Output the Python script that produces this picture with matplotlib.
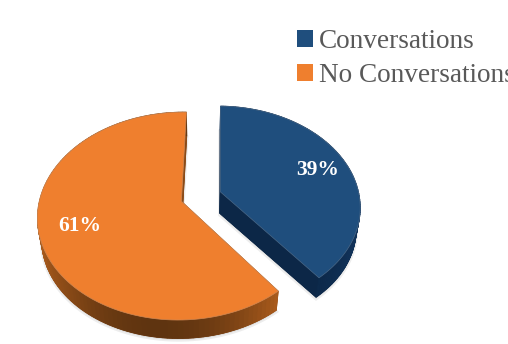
import numpy as np
import matplotlib
matplotlib.use("Agg")
from matplotlib import pyplot as plt
from matplotlib.patches import Patch
from matplotlib.transforms import IdentityTransform

categories = ["Conversations", "No Conversations"]
shares = [39, 61]

top_colors = ["#1f4e7d", "#ef7f2e"]
wall_colors = ["#0c2747", "#8a4a17"]
arc_dark = ["#0c2747", "#5f3410"]
arc_light = ["#12345c", "#a85a1c"]
label_pos = [(318, 170), (80, 226)]

# tilted pie: plane coordinates go through a small perspective divide
ORIGIN = (201, 196.5)
SCALE_X, SCALE_Y = 139, 99
TILT = 0.14
EXPLODE = 0.148
DEPTH = 21.5
RADIUS = [1.0, 1.015]
START = np.radians(1.2)


def project(u, v, low=False):
    d = 1 + TILT * v
    s = 0.975 if low else 1.0
    x = ORIGIN[0] + s * SCALE_X * u / d
    y = ORIGIN[1] - s * SCALE_Y * v / d
    if low:
        y = y + DEPTH
    return x, y


def mix(c1, c2, f):
    a = np.array(matplotlib.colors.to_rgb(c1))
    b = np.array(matplotlib.colors.to_rgb(c2))
    return tuple(a + (b - a) * f)


fig = plt.figure(figsize=(5.08, 3.44), dpi=100)
ax = fig.add_axes([0, 0, 1, 1])
ax.set_xlim(0, 508)
ax.set_ylim(344, 0)
ax.axis("off")

fractions = np.array(shares) / sum(shares)
edges = START + np.concatenate([[0], np.cumsum(fractions)]) * 2 * np.pi

for i in range(len(shares)):
    t = np.linspace(edges[i], edges[i + 1], 120)
    mid = (edges[i] + edges[i + 1]) / 2
    cu, cv = EXPLODE * np.sin(mid), EXPLODE * np.cos(mid)
    u = cu + RADIUS[i] * np.sin(t)
    v = cv + RADIUS[i] * np.cos(t)

    # soft grey rim under the slice
    lx, ly = project(np.r_[cu, u], np.r_[cv, v], low=True)
    ax.fill(lx, ly + 1.5, color="#000000", alpha=0.07, lw=2.5, zorder=1)

    # flat walls running from the apex out to the rim
    ax.fill(lx, ly, color=wall_colors[i], lw=0.5, zorder=2)
    for uu, vv in [(u[0], v[0]), (u[-1], v[-1])]:
        x1, y1 = project(np.array([cu, uu]), np.array([cv, vv]))
        x2, y2 = project(np.array([cu, uu]), np.array([cv, vv]), low=True)
        ax.fill([x1[0], x1[1], x2[1], x2[0]], [y1[0], y1[1], y2[1], y2[0]],
                color=wall_colors[i], lw=0.5, zorder=2)

    # curved outer wall, shaded bit by bit
    ux, uy = project(u, v)
    dx, dy = project(u, v, low=True)
    span = ux.max() - ux.min()
    for j in range(len(t) - 1):
        f = abs((ux[j] - ux.min()) / span - 0.5) * 2
        c = mix(arc_dark[i], arc_light[i], f ** 2)
        ax.fill([ux[j], ux[j + 1], dx[j + 1], dx[j]],
                [uy[j], uy[j + 1], dy[j + 1], dy[j]],
                color=c, lw=0.6, zorder=3)

    # top face
    px, py = project(np.r_[cu, u], np.r_[cv, v])
    ax.fill(px, py, facecolor=top_colors[i], edgecolor=mix(top_colors[i], "#999999", 0.35),
            lw=0.5, zorder=4)
    ax.text(label_pos[i][0], label_pos[i][1], f"{shares[i]}%", color="white",
            family="Liberation Serif", weight="bold", fontsize=15.5,
            ha="center", va="center", zorder=5)

handles = [Patch(facecolor=c, edgecolor="none") for c in top_colors]
# anchor is in display pixels, counted from the bottom left
ax.legend(handles, categories, loc="upper left", bbox_to_anchor=(297, 344 - 29),
          bbox_transform=IdentityTransform(),
          frameon=False, prop={"family": "Liberation Serif", "size": 19.6},
          labelcolor="#595959", handlelength=0.59, handleheight=0.59, handletextpad=0.2,
          labelspacing=0.32, borderpad=0, borderaxespad=0)

fig.savefig("out.png", dpi=100)
